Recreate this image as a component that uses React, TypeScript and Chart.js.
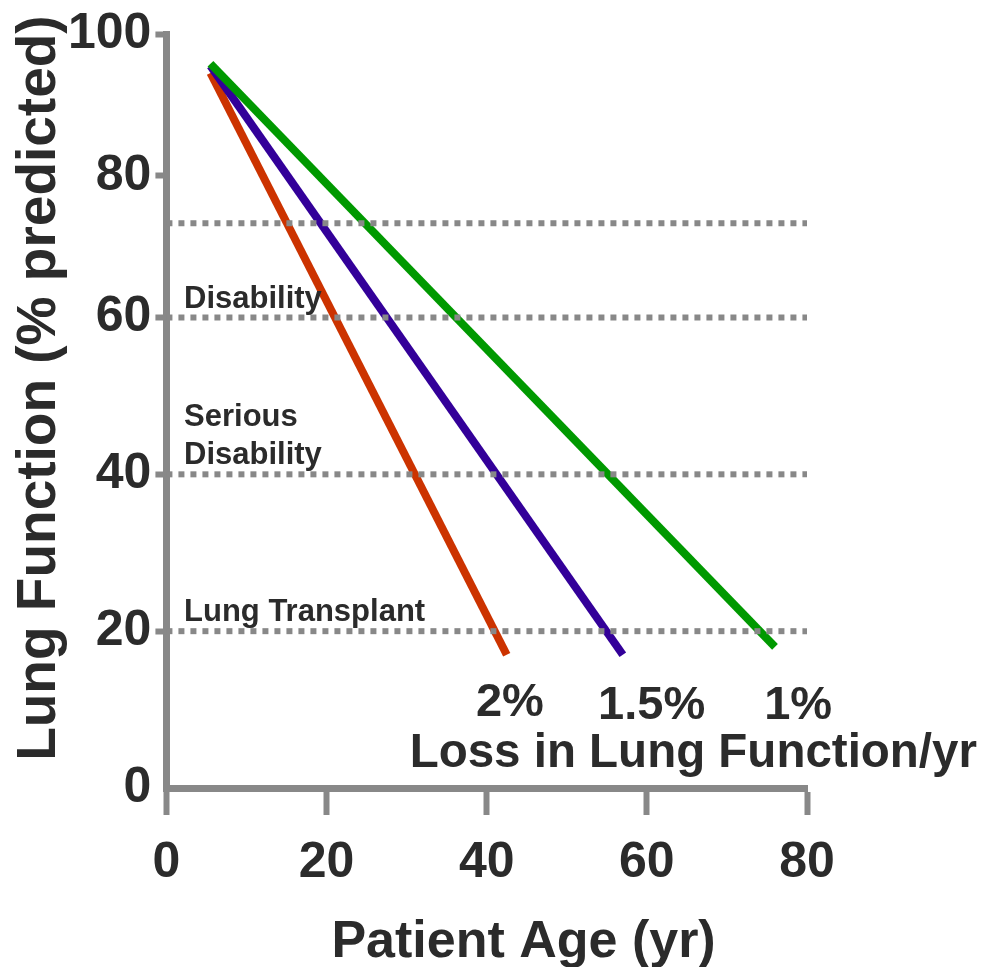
import React, { useEffect, useRef } from 'react';
import { Chart, registerables, LinearScale } from 'chart.js';

Chart.register(...registerables);

// ---------- data ----------
const lossRateLabels = ['2%', '1.5%', '1%'];
const lineColors = ['#CC3300', '#330099', '#009900'];
const startAge = [5.5, 5.5, 5.5];
const startLungFunction = [94.5, 95.5, 95.8];
const endAge = [42.5, 57, 76];
const endLungFunction = [17, 17, 18];

const thresholdLevels = [73.3, 60, 40, 20];
const thresholdNames = ['', 'Disability', 'Serious\nDisability', 'Lung Transplant'];

const xTickValues = [0, 20, 40, 60, 80];
const yTickValues = [0, 20, 40, 60, 80, 100];

const xTitle = 'Patient Age (yr)';
const yTitle = 'Lung Function (% predicted)';
const rateTitle = 'Loss in Lung Function/yr';

// ---------- custom axis with a change of spacing above 60 (as in the original) ----------
const BREAK_VALUE = 60;
const BREAK_FRACTION = 0.624;

class SegmentedScale extends LinearScale {
  static id = 'segmented';
  toDecimal(v: number) {
    const min = this.min as number;
    const max = this.max as number;
    if (v <= BREAK_VALUE) return ((v - min) / (BREAK_VALUE - min)) * BREAK_FRACTION;
    return BREAK_FRACTION + ((v - BREAK_VALUE) / (max - BREAK_VALUE)) * (1 - BREAK_FRACTION);
  }
  getPixelForValue(value: any) {
    if (value === null || value === undefined || isNaN(value)) return NaN;
    return this.getPixelForDecimal(this.toDecimal(+value));
  }
  getValueForPixel(pixel: number) {
    const d = this.getDecimalForPixel(pixel);
    const min = this.min as number;
    const max = this.max as number;
    if (d <= BREAK_FRACTION) return min + (d / BREAK_FRACTION) * (BREAK_VALUE - min);
    return BREAK_VALUE + ((d - BREAK_FRACTION) / (1 - BREAK_FRACTION)) * (max - BREAK_VALUE);
  }
}
Chart.register(SegmentedScale as any);

const FONT = "'Liberation Sans', Arial, Helvetica, sans-serif";
const TEXT = '#2b2b2b';
const AXIS = '#888888';

const annotationPlugin = {
  id: 'annotations',
  afterDatasetsDraw(chart: any) {
    const { ctx, scales, chartArea } = chart;
    const xs = scales.x;
    const ys = scales.y;
    ctx.save();
    ctx.fillStyle = TEXT;
    ctx.textBaseline = 'alphabetic';
    // threshold names
    ctx.font = `bold 31px ${FONT}`;
    ctx.textAlign = 'left';
    thresholdNames.forEach((name, i) => {
      if (!name) return;
      const lines = name.split('\n');
      const baseY = ys.getPixelForValue(thresholdLevels[i]) - 10;
      const x = xs.getPixelForValue(2.2);
      lines.forEach((ln, j) => {
        ctx.fillText(ln, x, baseY - (lines.length - 1 - j) * 38);
      });
    });
    // rate labels
    ctx.font = `bold 47px ${FONT}`;
    ctx.textAlign = 'center';
    const rateX = [42.9, 60.6, 78.9];
    const rateY = [716, 719, 719];
    lossRateLabels.forEach((lbl, i) => {
      ctx.fillText(lbl, xs.getPixelForValue(rateX[i]), rateY[i]);
    });
    ctx.font = `bold 47.5px ${FONT}`;
    ctx.fillText(rateTitle, xs.getPixelForValue(65.8), 767);

    // axis titles
    ctx.textBaseline = 'middle';
    ctx.font = `bold 52px ${FONT}`;
    ctx.fillText(xTitle, xs.getPixelForValue(44.6), chartArea.bottom + 155);

    ctx.font = `bold 55px ${FONT}`;
    ctx.translate(chartArea.left - 127, ys.getPixelForValue(51));
    ctx.rotate(-Math.PI / 2);
    ctx.fillText(yTitle, 0, 0);
    ctx.restore();
  },
};

export default function App() {
  const canvasRef = useRef<HTMLCanvasElement | null>(null);

  useEffect(() => {
    if (!canvasRef.current) return;

    const thresholdSets = thresholdLevels.map((lvl) => ({
      label: 'threshold ' + lvl,
      data: [
        { x: xTickValues[0], y: lvl },
        { x: xTickValues[xTickValues.length - 1], y: lvl },
      ],
      borderColor: AXIS,
      borderWidth: 6,
      borderDash: [6, 6],
      borderCapStyle: 'butt',
      pointRadius: 0,
      order: 0,
    }));

    const rateSets = lossRateLabels.map((lbl, i) => ({
      label: lbl,
      data: [
        { x: startAge[i], y: startLungFunction[i] },
        { x: endAge[i], y: endLungFunction[i] },
      ],
      borderColor: lineColors[i],
      borderWidth: 8,
      borderCapStyle: 'butt',
      pointRadius: 0,
      order: 3 - i,
    }));

    const chart = new Chart(canvasRef.current, {
      type: 'line',
      data: { datasets: [...thresholdSets, ...rateSets] as any },
      options: {
        animation: false,
        responsive: true,
        maintainAspectRatio: false,
        layout: { padding: { left: 64, top: 30, right: 179, bottom: 56 } },
        plugins: { legend: { display: false }, tooltip: { enabled: false } },
        scales: {
          x: {
            type: 'linear',
            min: xTickValues[0],
            max: xTickValues[xTickValues.length - 1],
            afterBuildTicks: (s: any) => {
              s.ticks = xTickValues.map((v) => ({ value: v }));
            },
            border: { display: true, color: AXIS, width: 7 },
            grid: {
              drawOnChartArea: false,
              drawTicks: true,
              tickLength: 27,
              tickWidth: 6,
              tickColor: AXIS,
            },
            ticks: {
              padding: 18,
              color: TEXT,
              font: { family: FONT, size: 50, weight: 'bold' },
            },
            title: { display: false },
          },
          y: {
            type: 'segmented' as any,
            min: yTickValues[0],
            max: yTickValues[yTickValues.length - 1],
            afterBuildTicks: (s: any) => {
              s.ticks = yTickValues.map((v) => ({ value: v }));
            },
            border: { display: true, color: AXIS, width: 7 },
            grid: {
              drawOnChartArea: false,
              drawTicks: true,
              tickLength: 11,
              tickWidth: 6,
              tickColor: (c: any) => (c.tick && c.tick.value === 0 ? 'rgba(0,0,0,0)' : AXIS),
            },
            ticks: {
              padding: 4,
              color: TEXT,
              font: { family: FONT, size: 50, weight: 'bold' },
            },
            title: { display: false },
          },
        },
      } as any,
      plugins: [annotationPlugin],
    });

    return () => chart.destroy();
  }, []);

  return (
    <div
      style={{
        position: 'fixed',
        left: 0,
        top: 0,
        width: 986,
        height: 967,
        background: '#ffffff',
      }}
    >
      <canvas ref={canvasRef} />
    </div>
  );
}
